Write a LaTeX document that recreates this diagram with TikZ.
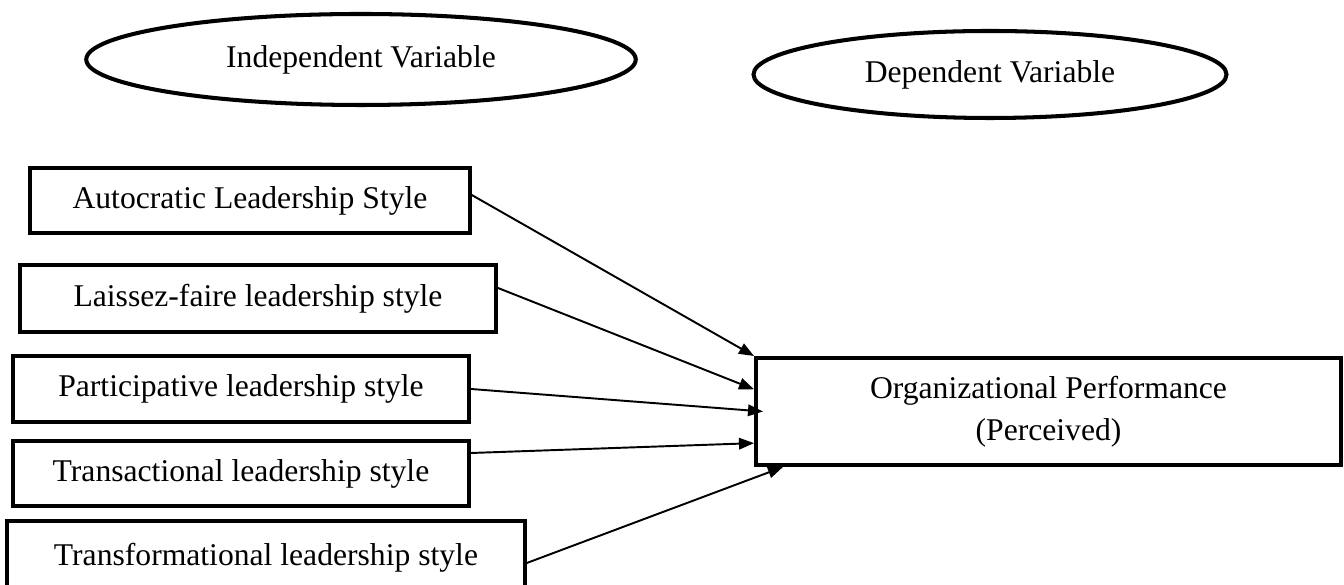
\documentclass[tikz,border=0pt]{standalone}
\usepackage{fontspec}
\setmainfont{Liberation Serif}
\usetikzlibrary{calc}
\usetikzlibrary{shapes.geometric}
\usetikzlibrary{arrows.meta}
\tikzset{
bold/.style={line width=2.3pt},
varlabel/.style 2 args={draw,ellipse,bold,inner sep=0pt,minimum width=#1,minimum height=#2,
	font=\fontsize{18}{24}\selectfont},
ivbox/.style 2 args={draw,rectangle,bold,inner sep=0pt,minimum width=#1,minimum height=#2,
	align=center,font=\fontsize{18}{24}\selectfont},
link/.style={-{Triangle[length=3mm,width=2.3mm]},line width=1.1pt},
}

\begin{document}
\begin{tikzpicture}
\useasboundingbox (0,0) rectangle (26.88,11.7);
%Place the nodes
\node[varlabel={10.99cm}{1.82cm}] (iv) at (7.22,10.51) {Independent Variable};
\node[varlabel={9.46cm}{1.74cm}] (dv) at (19.8,10.21) {Dependent Variable};

\foreach \nm/\x/\y/\w/\h/\txt in {auto/5.0/7.69/8.79/1.30/Autocratic Leadership Style,
	laissez/5.16/5.73/9.52/1.34/Laissez-faire leadership style,
	partic/4.82/3.92/9.12/1.32/Participative leadership style,
	transac/4.82/2.23/9.12/1.30/Transactional leadership style,
	transf/5.32/0.54/10.35/1.48/Transformational leadership style} {
	\node[ivbox={\w cm}{\h cm}] (\nm) at (\x,\y) {\txt};
}

\node[ivbox={11.7cm}{2.14cm}] (perf) at (20.97,3.47)
	{Organizational Performance\\(Perceived)};

%
\draw[link] ([yshift=1.1mm]auto.east) to (perf.north west);
\draw[link] ([yshift=2.1mm]laissez.east) to ($(perf.north west)!0.3!(perf.south west)$);
\draw[link] (partic.east) to ([xshift=1.8mm]perf.west);
\draw[link] ([yshift=4.1mm]transac.east) to ($(perf.north west)!0.785!(perf.south west)$);
\draw[link] ([yshift=-1mm]transf.east) to ([xshift=5.8mm]perf.south west);

\end{tikzpicture}
\end{document}
